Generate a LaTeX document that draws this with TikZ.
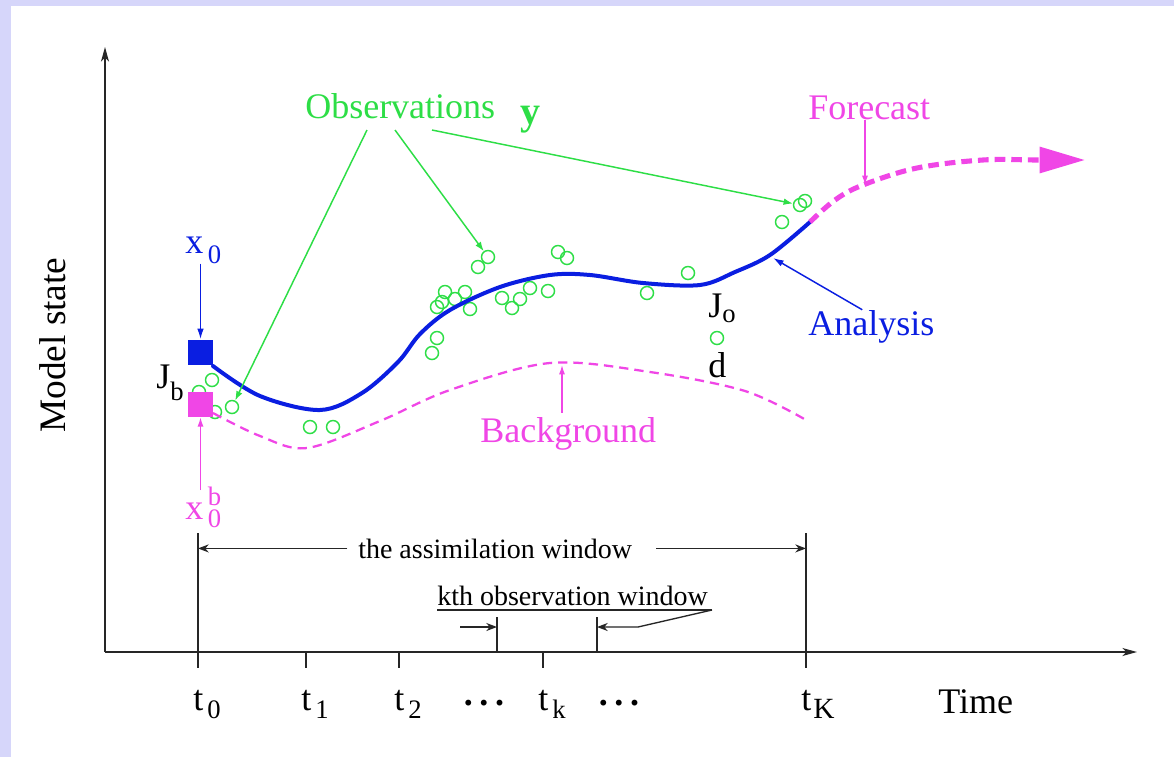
\documentclass[tikz,border=0pt]{standalone}
\usepackage{fontspec}
\setmainfont{Liberation Serif}
\usetikzlibrary{arrows.meta}
\definecolor{lav}{RGB}{214,214,250}
\definecolor{gobs}{RGB}{45,222,70}
\definecolor{ablue}{RGB}{10,30,225}
\definecolor{pinkm}{RGB}{240,70,230}
\newcommand\mainf{\fontsize{27}{30}\selectfont}
\newcommand\subf{\fontsize{20}{22}\selectfont}
\newcommand\winf{\fontsize{21}{24}\selectfont}
\begin{document}
\begin{tikzpicture}[x=0.75pt,y=-0.75pt,
  lbl/.style={inner sep=0pt, anchor=base west, font=\mainf},
  obs/.style={circle, draw=gobs, line width=1.1pt, minimum size=9.75pt, inner sep=0pt},
  garrow/.style={draw=gobs, line width=1.1pt, -{Latex[length=7pt,width=5pt]}},
  parrow/.style={draw=pinkm, line width=1pt, -{Latex[length=7pt,width=4.5pt]}},
  barrow/.style={draw=ablue, line width=1.1pt, -{Latex[length=8pt,width=5pt]}},
  axis/.style={draw=black!85, line width=1.1pt},
  warrow/.style={draw=black!85, line width=1pt, -{Stealth[length=8pt,width=6pt,inset=2.5pt]}},
  sq/.style={minimum size=18.75pt, inner sep=0pt, draw=none}
]
\useasboundingbox (0,0) rectangle (1174,757);
\fill[lav] (0,0) rectangle (1174,757);
\fill[white] (11,6) rectangle (1174,757);

% axes
\coordinate (O) at (105,652);
\draw[axis, -{Stealth[length=11pt,width=6pt,inset=3pt]}] (O) -- (105,47);
\draw[axis, -{Stealth[length=11pt,width=6pt,inset=3pt]}] (O) -- (1137,652);
\node[lbl, rotate=90, font=\fontsize{28}{30}\selectfont] (msl) at (65,433) {Model state};
\node[lbl] (timel) at (938,713) {Time};

% ticks
\coordinate (T0) at (198,652);
\coordinate (T1) at (306,652);
\coordinate (T2) at (399,652);
\coordinate (Tk) at (543,652);
\coordinate (TK) at (806,652);
\draw[axis, line width=1pt] (198,533) -- (198,668);
\draw[axis, line width=1pt] (806,533) -- (806,668);
\draw[axis, line width=1pt] (T1) -- ++(0,16);
\draw[axis, line width=1pt] (T2) -- ++(0,16);
\draw[axis, line width=1pt] (Tk) -- ++(0,16);

\node[lbl] (t0l) at (193,710) {t\hspace{3pt}\raisebox{-6pt}{\subf 0}};
\node[lbl] (t1l) at (301,710) {t\hspace{3pt}\raisebox{-6pt}{\subf 1}};
\node[lbl] (t2l) at (394,710) {t\hspace{3pt}\raisebox{-6pt}{\subf 2}};
\node[lbl] (tkl) at (538,710) {t\hspace{3pt}\raisebox{-6pt}{\subf k}};
\node[lbl] (tKl) at (801,710) {t\hspace{1.5pt}\raisebox{-6pt}{\fontsize{22}{24}\selectfont K}};
\node[lbl, font=\mainf\bfseries] (dots1) at (463.5,705) {.\hspace{5pt}.\hspace{5pt}.};
\node[lbl, font=\mainf\bfseries] (dots2) at (598.5,705) {.\hspace{5pt}.\hspace{5pt}.};

% assimilation window
\node[lbl, font=\winf] (awl) at (358,558) {the assimilation window};
\coordinate (AWL) at (198,549);
\coordinate (AWR) at (806,549);
\draw[warrow] ([xshift=-8pt]awl.west) -- (awl.west -| AWL);
\draw[warrow] ([xshift=18pt]awl.east) -- (awl.east -| AWR);

% kth observation window
\node[lbl, font=\winf] (kwl) at (437,605) {kth observation window};
\coordinate (ku1) at (437,610);
\coordinate (ku2) at (712,610);
\coordinate (kb) at (638,627);
\coordinate (kR) at (597,627);
\coordinate (kLs) at (460,627);
\coordinate (kL) at (497,627);
\draw[axis, line width=1pt] (497,617) -- (497,652);
\draw[axis, line width=1pt] (597,617) -- (597,652);
\draw[draw=black!85, line width=1pt] (ku1) -- (ku2);
\draw[warrow] (ku2) -- (kb) -- (kR);
\draw[warrow] (kLs) -- (kL);

% observations
\foreach \n/\p in {a1/{(212,380)}, a2/{(199,392)}, a3/{(215,412)}, a4/{(232,407)},
  a5/{(310,427)}, a6/{(333,427)}, b1/{(432,353)}, b2/{(437,338)},
  b3/{(445,292)}, b4/{(442,302)}, b5/{(437,307)}, b6/{(455,299)}, b7/{(465,292)}, b8/{(470,309)},
  b9/{(478,267)}, b10/{(488,257)}, c1/{(502,298)}, c2/{(512,308)}, c3/{(520,299)},
  c4/{(530,288)}, c5/{(548,291)}, c6/{(558,252)}, c7/{(567,258)},
  d1/{(647,293)}, d2/{(688,273)}, d3/{(717,338)}, d4/{(782,222)}, d5/{(800,205)}, d6/{(805,201)}}
  \node[obs] (o\n) at \p {};

% background
\draw[pinkm, line width=1.7pt, dash pattern=on 7pt off 4.5pt]
  plot[smooth, tension=0.55] coordinates {(213,413) (260,436) (307,448) (380,421) (450,390)
  (550,363) (650,372) (745,391) (806,420)};

% analysis
\draw[ablue, line width=3pt, line cap=round]
  plot[smooth, tension=0.55] coordinates {(213,366) (260,396) (320,410) (362,393) (398,362) (420,334)
  (450,310) (500,287) (550,275) (590,275) (643,283) (700,285) (735,272) (770,255) (810,222)};

% forecast
\draw[pinkm, line width=3.8pt, dash pattern=on 8pt off 4.5pt, -{Triangle[length=34pt,width=19pt]}]
  plot[smooth, tension=0.6] coordinates {(810,222) (835,200) (863,185) (917,168) (983,160) (1037,160) (1085,160)};

% squares
\node[sq, fill=ablue] (xsq) at (200.5,352) {};
\node[sq, fill=pinkm] (bsq) at (200.5,404.5) {};

% labels
\node[lbl, text=gobs] (obsl) at (305,118) {Observations};
\node[lbl, text=gobs, font=\fontsize{30}{32}\selectfont\bfseries] (ylbl) at (520,124) {y};
\node[lbl, text=pinkm] (fcl) at (808,119) {Forecast};
\node[lbl, text=ablue] (anl) at (808,335) {Analysis};
\node[lbl, text=pinkm] (bgl) at (480,442) {Background};
\node[lbl, text=ablue] (x0l) at (185,253) {x\hspace{3.5pt}\raisebox{-7.5pt}{\subf 0}};
\node[lbl, text=pinkm] (xbl) at (185,519) {x\hspace{3.5pt}\rlap{\raisebox{10.5pt}{\subf b}}\raisebox{-6pt}{\subf 0}};
\node[lbl] (jbl) at (156,388) {J\raisebox{-9pt}{\subf b}};
\node[lbl] (jol) at (708,317) {J\raisebox{-4pt}{\subf o}};
\node[lbl] (dl) at (708,377) {d};

% green connectors
\coordinate (g1s) at (367,130);
\coordinate (g2s) at (395,130);
\coordinate (g3s) at (432,130);
\draw[garrow] (g1s) -- (oa4);
\draw[garrow] (g2s) -- (ob10);
\draw[garrow] (g3s) -- (od5);

% other connectors
\draw[barrow] (xsq.north |- x0l.south) -- (xsq.north);
\draw[parrow] ([yshift=-3pt]bsq.south |- xbl.north) -- (bsq.south);
\coordinate (fcpt) at (865,185);
\draw[parrow] (fcpt |- fcl.south) -- (fcpt);
\coordinate (bgpt) at (562,365);
\draw[parrow] ([yshift=3pt]bgpt |- bgl.north) -- (bgpt);
\coordinate (anpt) at (773,258);
\draw[barrow] ([xshift=-6.75pt]anl.north) -- (anpt);
\end{tikzpicture}
\end{document}
